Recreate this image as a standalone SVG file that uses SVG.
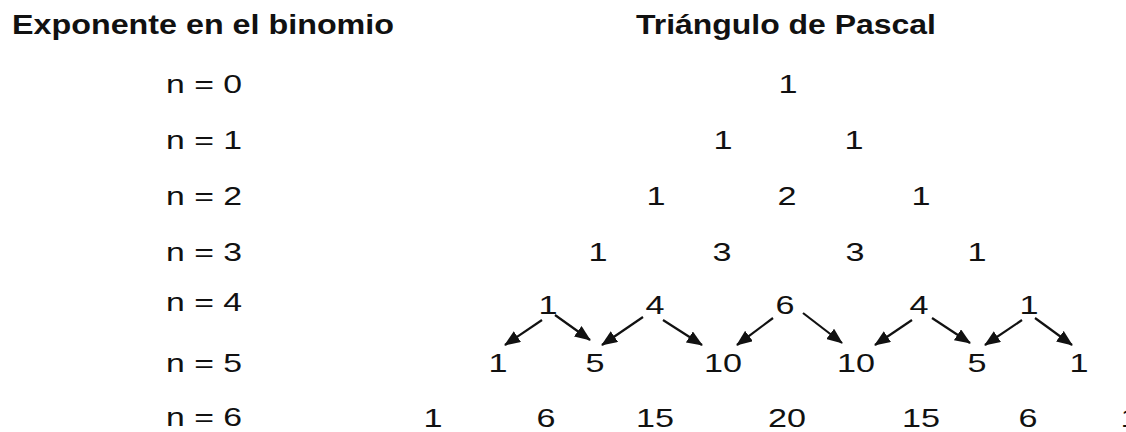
<svg xmlns="http://www.w3.org/2000/svg" width="1126" height="432" viewBox="0 0 1126 432">
<style>
text{font-family:"Liberation Sans",Arial,sans-serif;fill:#111}
.t{font-size:27px;font-weight:bold}
.l{font-size:26px}
.n{font-size:26px;text-anchor:middle}
.c line{stroke:#111;stroke-width:2.2}
</style>
<defs>
<marker id="ah" markerUnits="userSpaceOnUse" markerWidth="16" markerHeight="13" viewBox="0 0 16 13" refX="15" refY="6.5" orient="auto">
<path d="M0,0 L16,6.5 L0,13 z" fill="#111"/>
</marker>
</defs>
<rect width="1126" height="432" fill="#fff"/>
<g id="titles">
<text class="t" x="12" y="34" textLength="382" lengthAdjust="spacingAndGlyphs">Exponente en el binomio</text>
<text class="t" x="636" y="34" textLength="300" lengthAdjust="spacingAndGlyphs">Triángulo de Pascal</text>
</g>
<g id="labels">
<text class="l" x="166" y="93" textLength="76" lengthAdjust="spacingAndGlyphs">n = 0</text>
<text class="l" x="166" y="149" textLength="76" lengthAdjust="spacingAndGlyphs">n = 1</text>
<text class="l" x="166" y="205" textLength="76" lengthAdjust="spacingAndGlyphs">n = 2</text>
<text class="l" x="166" y="261" textLength="76" lengthAdjust="spacingAndGlyphs">n = 3</text>
<text class="l" x="166" y="311" textLength="76" lengthAdjust="spacingAndGlyphs">n = 4</text>
<text class="l" x="166" y="372" textLength="76" lengthAdjust="spacingAndGlyphs">n = 5</text>
<text class="l" x="166" y="426" textLength="76" lengthAdjust="spacingAndGlyphs">n = 6</text>
</g>
<g id="row0"><text class="n" x="788" y="93" textLength="19" lengthAdjust="spacingAndGlyphs">1</text></g>
<g id="row1">
<text class="n" x="723" y="149" textLength="19" lengthAdjust="spacingAndGlyphs">1</text>
<text class="n" x="854" y="149" textLength="19" lengthAdjust="spacingAndGlyphs">1</text>
</g>
<g id="row2">
<text class="n" x="656" y="205" textLength="19" lengthAdjust="spacingAndGlyphs">1</text>
<text class="n" x="787" y="205" textLength="19" lengthAdjust="spacingAndGlyphs">2</text>
<text class="n" x="921" y="205" textLength="19" lengthAdjust="spacingAndGlyphs">1</text>
</g>
<g id="row3">
<text class="n" x="598" y="261" textLength="19" lengthAdjust="spacingAndGlyphs">1</text>
<text class="n" x="722" y="261" textLength="19" lengthAdjust="spacingAndGlyphs">3</text>
<text class="n" x="855" y="261" textLength="19" lengthAdjust="spacingAndGlyphs">3</text>
<text class="n" x="977" y="261" textLength="19" lengthAdjust="spacingAndGlyphs">1</text>
</g>
<g id="row4">
<text class="n" x="548" y="314" textLength="19" lengthAdjust="spacingAndGlyphs">1</text>
<text class="n" x="655" y="314" textLength="19" lengthAdjust="spacingAndGlyphs">4</text>
<text class="n" x="785" y="314" textLength="19" lengthAdjust="spacingAndGlyphs">6</text>
<text class="n" x="919" y="314" textLength="19" lengthAdjust="spacingAndGlyphs">4</text>
<text class="n" x="1029" y="314" textLength="19" lengthAdjust="spacingAndGlyphs">1</text>
</g>
<g id="row5">
<text class="n" x="498" y="372" textLength="19" lengthAdjust="spacingAndGlyphs">1</text>
<text class="n" x="595" y="372" textLength="19" lengthAdjust="spacingAndGlyphs">5</text>
<text class="n" x="723" y="372" textLength="38" lengthAdjust="spacingAndGlyphs">10</text>
<text class="n" x="856" y="372" textLength="38" lengthAdjust="spacingAndGlyphs">10</text>
<text class="n" x="977" y="372" textLength="19" lengthAdjust="spacingAndGlyphs">5</text>
<text class="n" x="1079" y="372" textLength="19" lengthAdjust="spacingAndGlyphs">1</text>
</g>
<g id="row6">
<text class="n" x="433" y="427" textLength="19" lengthAdjust="spacingAndGlyphs">1</text>
<text class="n" x="546" y="427" textLength="19" lengthAdjust="spacingAndGlyphs">6</text>
<text class="n" x="655" y="427" textLength="38" lengthAdjust="spacingAndGlyphs">15</text>
<text class="n" x="787" y="427" textLength="38" lengthAdjust="spacingAndGlyphs">20</text>
<text class="n" x="921" y="427" textLength="38" lengthAdjust="spacingAndGlyphs">15</text>
<text class="n" x="1028" y="427" textLength="19" lengthAdjust="spacingAndGlyphs">6</text>
<text class="n" x="1130" y="427" textLength="19" lengthAdjust="spacingAndGlyphs">1</text>
</g>
<g id="connectors" class="c">
<line x1="542" y1="320" x2="505" y2="345" marker-end="url(#ah)"/>
<line x1="555" y1="315" x2="590" y2="340" marker-end="url(#ah)"/>
<line x1="643" y1="317" x2="602" y2="345" marker-end="url(#ah)"/>
<line x1="663" y1="320" x2="702" y2="345" marker-end="url(#ah)"/>
<line x1="773" y1="318" x2="737" y2="345" marker-end="url(#ah)"/>
<line x1="803" y1="313" x2="842" y2="343" marker-end="url(#ah)"/>
<line x1="912" y1="320" x2="875" y2="345" marker-end="url(#ah)"/>
<line x1="932" y1="318" x2="970" y2="343" marker-end="url(#ah)"/>
<line x1="1022" y1="320" x2="985" y2="345" marker-end="url(#ah)"/>
<line x1="1035" y1="318" x2="1072" y2="345" marker-end="url(#ah)"/>
</g>
</svg>
